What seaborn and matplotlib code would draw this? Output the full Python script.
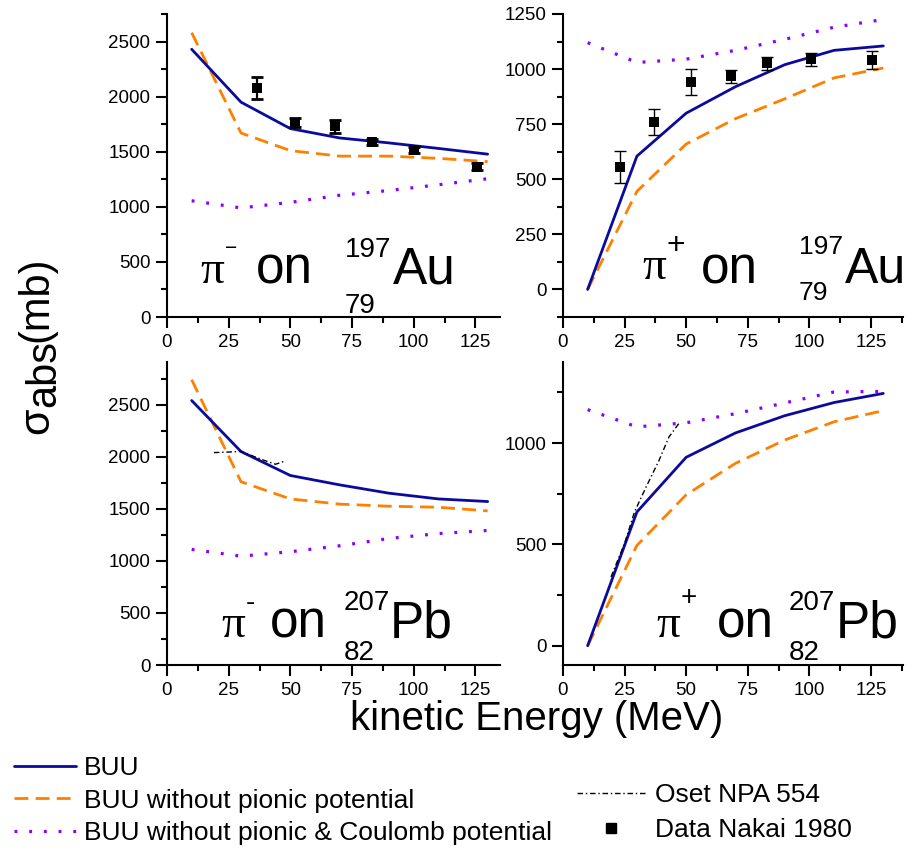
import matplotlib
matplotlib.use("Agg")
import matplotlib.pyplot as plt
from matplotlib.lines import Line2D
from matplotlib.ticker import MultipleLocator
import pandas as pd
import seaborn as sns

# ---- data -------------------------------------------------------------
energy = [10, 30, 50, 70, 90, 110, 130]

# pi- on Au-197
au_m_buu = [2430, 1950, 1710, 1625, 1580, 1530, 1478]
au_m_nopion = [2580, 1670, 1510, 1460, 1460, 1440, 1410]
au_m_nocoul = [1055, 990, 1040, 1105, 1148, 1200, 1255]
au_m_data_e = [36.5, 52, 68, 83, 100, 125.5]
au_m_data = [2075, 1765, 1730, 1590, 1515, 1365]
au_m_data_err = [100, 40, 60, 25, 25, 30]

# pi+ on Au-197
au_p_buu = [0, 605, 800, 920, 1020, 1085, 1105]
au_p_nopion = [0, 445, 660, 775, 865, 960, 1005]
au_p_nocoul = [1120, 1030, 1045, 1085, 1135, 1190, 1225]
au_p_data_e = [23, 37, 52, 68, 83, 100.5, 125.5]
au_p_data = [557, 760, 942, 967, 1027, 1045, 1042]
au_p_data_err = [73, 58, 58, 28, 30, 30, 40]

# pi- on Pb-207
pb_m_buu = [2540, 2050, 1820, 1730, 1650, 1595, 1570]
pb_m_nopion = [2740, 1760, 1595, 1545, 1525, 1515, 1480]
pb_m_nocoul = [1110, 1045, 1088, 1145, 1215, 1262, 1292]
pb_m_oset_e = [19, 25, 30, 35, 40, 44, 48]
pb_m_oset = [2040, 2045, 2052, 2005, 1960, 1928, 1960]

# pi+ on Pb-207
pb_p_buu = [0, 660, 930, 1050, 1135, 1200, 1245]
pb_p_nopion = [0, 495, 745, 900, 1015, 1105, 1160]
pb_p_nocoul = [1165, 1080, 1100, 1145, 1198, 1252, 1255]
pb_p_oset_e = [19.5, 25, 29, 34, 39, 43, 47]
pb_p_oset = [340, 505, 660, 790, 915, 1030, 1096]

# ---- style ------------------------------------------------------------
sns.set_theme(style="ticks")
plt.rcParams["font.family"] = ["Liberation Sans", "DejaVu Sans"]
plt.rcParams["axes.linewidth"] = 1.5
plt.rcParams["text.color"] = "black"
plt.rcParams["axes.edgecolor"] = "black"
plt.rcParams["xtick.color"] = "black"
plt.rcParams["ytick.color"] = "black"

BLUE = "#0a0a9c"
ORANGE = "#ff8000"
PURPLE = "#8a00ff"
SANS = ["Liberation Sans", "DejaVu Sans"]
SERIF = ["Liberation Serif", "DejaVu Serif"]

W, H = 908, 850
fig = plt.figure(figsize=(W / 100, H / 100), dpi=100)


def add_axes_px(left, top, right, bottom):
    return fig.add_axes([left / W, 1 - bottom / H, (right - left) / W, (bottom - top) / H])


STYLES = {
    "BUU": dict(color=BLUE, lw=2.0, linestyle="-"),
    "nopion": dict(color=ORANGE, lw=2.0, dashes=(5, 2.6)),
    "nocoul": dict(color=PURPLE, lw=2.3, dashes=(0.9, 3.7)),
    "oset": dict(color="black", lw=1.0, dashes=(4, 2, 1, 2)),
}


def draw_panel(box, xlim, ylim, ymajor, yminor, buu, nopion, nocoul,
               data=None, oset=None, bold_err=False):
    ax = add_axes_px(*box)
    curves = pd.DataFrame({"E": energy, "BUU": buu, "nopion": nopion, "nocoul": nocoul})
    for key in ["nocoul", "nopion", "BUU"]:
        st = dict(STYLES[key])
        dashes = st.pop("dashes", None)
        sns.lineplot(data=curves, x="E", y=key, ax=ax, legend=False, **st)
        if dashes is not None:
            ax.lines[-1].set_dashes(dashes)
    if oset is not None:
        st = dict(STYLES["oset"])
        dashes = st.pop("dashes")
        odf = pd.DataFrame({"E": oset[0], "s": oset[1]})
        sns.lineplot(data=odf, x="E", y="s", ax=ax, legend=False, **st)
        ax.lines[-1].set_dashes(dashes)
    if data is not None:
        de, dv, derr = data
        ax.errorbar(de, dv, yerr=derr, fmt="none", ecolor="black",
                    elinewidth=1.6 if bold_err else 1.0,
                    capsize=4.5, capthick=2.0 if bold_err else 1.0, zorder=4)
        ddf = pd.DataFrame({"E": de, "s": dv})
        sns.scatterplot(data=ddf, x="E", y="s", ax=ax, marker="s", s=60,
                        color="black", edgecolor="black", linewidth=0, zorder=5, legend=False)
    ax.set_xlim(*xlim)
    ax.set_ylim(*ylim)
    ax.xaxis.set_major_locator(MultipleLocator(25))
    ax.xaxis.set_minor_locator(MultipleLocator(12.5))
    ax.yaxis.set_major_locator(MultipleLocator(ymajor))
    ax.yaxis.set_minor_locator(MultipleLocator(yminor))
    ax.tick_params(which="major", direction="out", length=8, width=1.5,
                   labelsize=13.5, pad=4, colors="black")
    ax.tick_params(which="minor", direction="out", length=4.5, width=1.5)
    ax.set_xlabel("")
    ax.set_ylabel("")
    for side in ("top", "right"):
        ax.spines[side].set_visible(False)
    ax.patch.set_alpha(0)
    return ax


draw_panel((167, 14, 500, 317), (0, 135), (0, 2750), 500, 250,
           au_m_buu, au_m_nopion, au_m_nocoul,
           data=(au_m_data_e, au_m_data, au_m_data_err), bold_err=True)
draw_panel((563, 14, 903, 317), (0, 138), (-125, 1250), 250, 125,
           au_p_buu, au_p_nopion, au_p_nocoul,
           data=(au_p_data_e, au_p_data, au_p_data_err))
draw_panel((167, 362, 500, 665), (0, 135), (0, 2910), 500, 250,
           pb_m_buu, pb_m_nopion, pb_m_nocoul,
           oset=(pb_m_oset_e, pb_m_oset))
draw_panel((563, 362, 903, 665), (0, 138), (-95, 1400), 500, 250,
           pb_p_buu, pb_p_nopion, pb_p_nocoul,
           oset=(pb_p_oset_e, pb_p_oset))


# ---- reaction labels inside the panels ---------------------------------
def ftext(x, y, s, size, family=None, ha="left", va="baseline"):
    fam = family if family else SANS
    return fig.text(x / W, 1 - y / H, s, fontsize=size, family=fam,
                    ha=ha, va=va, color="black")


renderer = fig.canvas.get_renderer()


def reaction(pi_x, pi_y, sign, sign_y, sign_size, on_x, base, mass, charge,
             iso_x, mass_y, charge_y, elem, elem_x, iso_size=20, elem_size=37):
    pi_t = ftext(pi_x, pi_y, "\u03c0", 34, SERIF)
    # the charge sign sits just to the right of the pion symbol
    right_px = pi_t.get_window_extent(renderer).x1
    ftext(right_px + 1, sign_y, sign, sign_size, va="center")
    ftext(on_x, base, "on", 37)
    ftext(iso_x, mass_y, mass, iso_size)
    ftext(iso_x, charge_y, charge, iso_size)
    ftext(elem_x, base, elem, elem_size)


reaction(200, 283, "\u2212", 249, 15, 256, 283, "197", "79", 345, 257, 313, "Au", 393)
reaction(642, 279, "+", 246, 23, 701, 283, "197", "79", 799, 254, 300, "Au", 845,
         iso_size=19, elem_size=36)
reaction(221, 637, "-", 603, 20, 270, 637, "207", "82", 344, 610, 660, "Pb", 390)
reaction(656, 637, "+", 598, 20, 717, 637, "207", "82", 789, 610, 660, "Pb", 836)

# ---- axis titles --------------------------------------------------------
ftext(537, 730, "kinetic Energy (MeV)", 29, ha="center")


def vtext(x, y, s, size):
    fig.text(x / W, 1 - y / H, s, fontsize=size, rotation=90, rotation_mode="anchor",
             ha="left", va="baseline", family=SANS, color="black")


vtext(48, 434, "\u03c3", 31)
vtext(55, 407, "abs", 30)
vtext(47, 342, "(mb)", 30)

# ---- legends ------------------------------------------------------------
h_buu = Line2D([], [], color=BLUE, lw=2.0)
h_nopion = Line2D([], [], color=ORANGE, lw=2.0, dashes=(5, 2.6))
h_nocoul = Line2D([], [], color=PURPLE, lw=2.3, dashes=(0.9, 3.7))
h_oset = Line2D([], [], color="black", lw=1.0, dashes=(4, 2, 1, 2))
h_data = Line2D([], [], color="black", marker="s", markersize=7, linestyle="none")

leg_kw = dict(loc="upper left", frameon=False, fontsize=19, labelcolor="black",
              borderpad=0, borderaxespad=0)
fig.legend([h_buu, h_nopion, h_nocoul],
           ["BUU", "BUU without pionic potential", "BUU without pionic & Coulomb potential"],
           bbox_to_anchor=(14 / W, 1 - 756 / H),
           handlelength=2.35, handletextpad=0.3, labelspacing=0.33, **leg_kw)
fig.legend([h_oset, h_data], ["Oset NPA 554", "Data Nakai 1980"],
           bbox_to_anchor=(577 / W, 1 - 783 / H),
           handlelength=2.6, handletextpad=0.35, labelspacing=0.42, **leg_kw)

fig.savefig("out.png", dpi=100, facecolor="white")
